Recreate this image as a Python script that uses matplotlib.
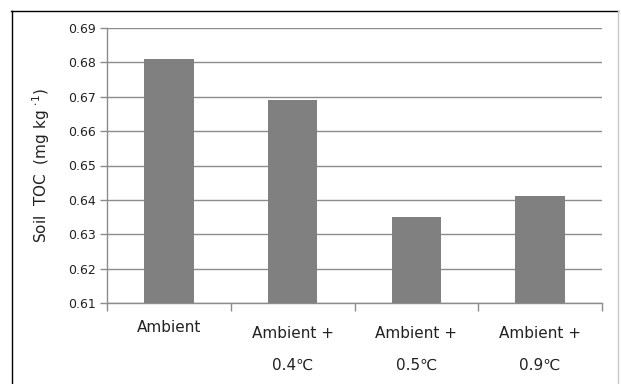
import matplotlib
matplotlib.use("Agg")
import matplotlib.pyplot as plt
from matplotlib.lines import Line2D
import numpy as np

categories = ["Ambient", "Ambient +\n0.4℃", "Ambient +\n0.5℃", "Ambient +\n0.9℃"]
values = [0.681, 0.669, 0.635, 0.641]
yticks = [0.61, 0.62, 0.63, 0.64, 0.65, 0.66, 0.67, 0.68, 0.69]

plt.rcParams['font.family'] = ['DejaVu Sans', 'Noto Sans CJK KR']

W, H = 621, 384
fig = plt.figure(figsize=(W / 100, H / 100), dpi=100)
ax = fig.add_axes([107 / W, 1 - 303 / H, (602 - 107) / W, (303 - 28) / H])

x = np.arange(len(categories))
ax.bar(x, [v - yticks[0] for v in values], bottom=yticks[0], width=0.4,
       color="#808080", zorder=3)
ax.set_xlim(-0.5, len(categories) - 0.5)
ax.set_ylim(yticks[0], yticks[-1])
ax.set_yticks(yticks)
ax.set_yticklabels([f"{t:.2f}" for t in yticks], fontsize=9, color="#222222")
ax.yaxis.grid(True, color="#8c8c8c", linewidth=1.0, zorder=0)

for s in ["top", "right"]:
    ax.spines[s].set_visible(False)
for s in ["left", "bottom"]:
    ax.spines[s].set_color("#8c8c8c")
    ax.spines[s].set_linewidth(1.0)

ax.tick_params(axis="y", length=5, width=1, color="#8c8c8c", pad=3)
ax.set_xticks(np.arange(len(categories) + 1) - 0.5)
ax.set_xticklabels([])
ax.tick_params(axis="x", length=6, width=1, color="#8c8c8c", direction="out")

trans = ax.get_xaxis_transform()
fs = 11
for i, lab in enumerate(categories):
    lines = lab.split("\n")
    if len(lines) == 1:
        ax.text(i, -(328 - 303) / (303 - 28), lines[0], transform=trans,
                ha="center", va="center", fontsize=fs, color="#222222")
    else:
        ax.text(i, -(333 - 303) / (303 - 28), lines[0], transform=trans,
                ha="center", va="center", fontsize=fs, color="#222222")
        ax.text(i, -(365 - 303) / (303 - 28), lines[1], transform=trans,
                ha="center", va="center", fontsize=fs, color="#222222")

fig.text(41 / W, 1 - 166 / H, r"Soil  TOC  (mg kg $^{\cdot 1}$)", rotation=90,
         ha="center", va="center", fontsize=11, color="#222222")

# outer frame
fig.add_artist(Line2D([11 / W, 618 / W], [1 - 10.5 / H, 1 - 10.5 / H],
                      color="black", linewidth=1.0, transform=fig.transFigure))
fig.add_artist(Line2D([11.5 / W, 11.5 / W], [0, 1 - 10.5 / H],
                      color="black", linewidth=1.0, transform=fig.transFigure))
fig.add_artist(Line2D([618 / W, 618 / W], [0, 1 - 10.5 / H],
                      color="#c8c8c8", linewidth=1.0, transform=fig.transFigure))

fig.savefig("out.png", dpi=100)
